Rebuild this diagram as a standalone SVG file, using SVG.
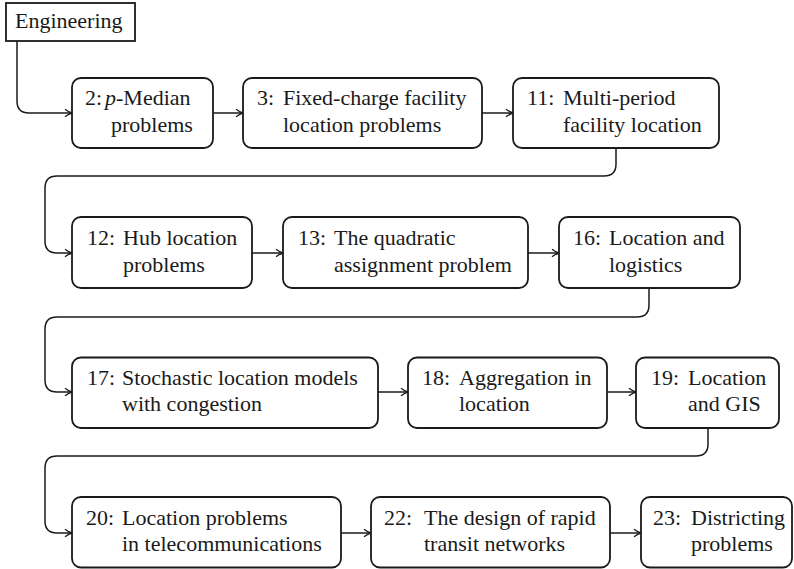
<svg xmlns="http://www.w3.org/2000/svg" width="794" height="569" viewBox="0 0 794 569">
<style>
.box{fill:#fff;stroke:#1a1a1a;stroke-width:1.8}
.t{font-family:'Liberation Serif','Times New Roman',serif;font-size:22px;fill:#1a1a1a}
.c{fill:none;stroke:#1a1a1a;stroke-width:1.5}
</style>
<defs>
<marker id="ah" markerWidth="10" markerHeight="10" refX="9" refY="5" orient="auto" markerUnits="userSpaceOnUse">
<path d="M2,1.2 Q6,4.2 9,5 Q6,5.8 2,8.8" fill="none" stroke="#1a1a1a" stroke-width="1.3"/>
</marker>
</defs>
<rect width="794" height="569" fill="#fff"/>
<g id="connectors">
<path class="c" marker-end="url(#ah)" d="M17,41 V101 Q17,113 29,113 H72"/>
<path class="c" marker-end="url(#ah)" d="M213,113 H243"/>
<path class="c" marker-end="url(#ah)" d="M482,113 H513"/>
<path class="c" marker-end="url(#ah)" d="M616,149 V164 Q616,176 604,176 H57 Q45,176 45,188 V241 Q45,253 57,253 H72"/>
<path class="c" marker-end="url(#ah)" d="M252,253 H283"/>
<path class="c" marker-end="url(#ah)" d="M528,253 H559"/>
<path class="c" marker-end="url(#ah)" d="M649,289 V305 Q649,317 637,317 H57 Q45,317 45,329 V380 Q45,392 57,392 H72"/>
<path class="c" marker-end="url(#ah)" d="M378,392 H408"/>
<path class="c" marker-end="url(#ah)" d="M607,392 H636"/>
<path class="c" marker-end="url(#ah)" d="M708,428 V444 Q708,456 696,456 H57 Q45,456 45,468 V521 Q45,533 57,533 H72"/>
<path class="c" marker-end="url(#ah)" d="M341,533 H371"/>
<path class="c" marker-end="url(#ah)" d="M610,533 H641"/>
</g>
<g id="engineering">
<rect x="6" y="3" width="129" height="38" fill="#fff" stroke="#1a1a1a" stroke-width="1.8"/>
<text class="t" x="15" y="28">Engineering</text>
</g>
<g id="n2">
<rect class="box" x="72" y="78" width="141" height="70" rx="9"/>
<text class="t" x="85" y="105">2:</text>
<text class="t" x="105" y="105"><tspan font-style="italic">p</tspan>-Median</text>
<text class="t" x="111" y="132">problems</text>
</g>
<g id="n3">
<rect class="box" x="243" y="78" width="239" height="70" rx="9"/>
<text class="t" x="257" y="105">3:</text>
<text class="t" x="283" y="105">Fixed-charge facility</text>
<text class="t" x="283" y="132">location problems</text>
</g>
<g id="n11">
<rect class="box" x="513" y="78" width="206" height="70" rx="9"/>
<text class="t" x="527" y="105">11:</text>
<text class="t" x="563" y="105">Multi-period</text>
<text class="t" x="563" y="132">facility location</text>
</g>
<g id="n12">
<rect class="box" x="72" y="217" width="180" height="71" rx="9"/>
<text class="t" x="87" y="245">12:</text>
<text class="t" x="123" y="245">Hub location</text>
<text class="t" x="123" y="272">problems</text>
</g>
<g id="n13">
<rect class="box" x="283" y="217" width="245" height="71" rx="9"/>
<text class="t" x="298" y="245">13:</text>
<text class="t" x="334" y="245">The quadratic</text>
<text class="t" x="334" y="272">assignment problem</text>
</g>
<g id="n16">
<rect class="box" x="559" y="217" width="181" height="71" rx="9"/>
<text class="t" x="573" y="245">16:</text>
<text class="t" x="609" y="245">Location and</text>
<text class="t" x="609" y="272">logistics</text>
</g>
<g id="n17">
<rect class="box" x="72" y="357.5" width="306" height="70.5" rx="9"/>
<text class="t" x="87" y="385">17:</text>
<text class="t" x="122" y="385">Stochastic location models</text>
<text class="t" x="122" y="411">with congestion</text>
</g>
<g id="n18">
<rect class="box" x="408" y="357.5" width="199" height="70.5" rx="9"/>
<text class="t" x="422" y="385">18:</text>
<text class="t" x="459" y="385">Aggregation in</text>
<text class="t" x="459" y="411">location</text>
</g>
<g id="n19">
<rect class="box" x="636" y="357.5" width="143" height="70.5" rx="9"/>
<text class="t" x="651" y="385">19:</text>
<text class="t" x="688" y="385">Location</text>
<text class="t" x="688" y="411">and GIS</text>
</g>
<g id="n20">
<rect class="box" x="72" y="497" width="269" height="70.5" rx="9"/>
<text class="t" x="86" y="525">20:</text>
<text class="t" x="122" y="525">Location problems</text>
<text class="t" x="122" y="551">in telecommunications</text>
</g>
<g id="n22">
<rect class="box" x="371" y="497" width="239" height="70.5" rx="9"/>
<text class="t" x="384" y="525">22:</text>
<text class="t" x="424" y="525">The design of rapid</text>
<text class="t" x="424" y="551">transit networks</text>
</g>
<g id="n23">
<rect class="box" x="641" y="497" width="151" height="70.5" rx="9"/>
<text class="t" x="653" y="525">23:</text>
<text class="t" x="691" y="525">Districting</text>
<text class="t" x="691" y="551">problems</text>
</g>
</svg>
